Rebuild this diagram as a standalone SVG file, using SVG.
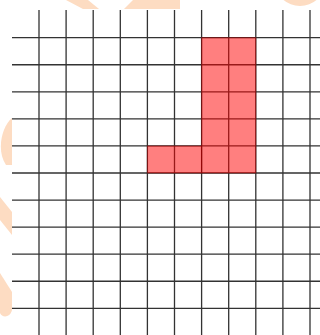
<svg xmlns="http://www.w3.org/2000/svg" width="320" height="335" viewBox="0 0 320 335">
<style>
.wm{fill:#fddcc2}
.gl{stroke:#333;stroke-width:1.3;fill:none}
.cell{fill:#ff0000;fill-opacity:0.5;stroke:#8b0000;stroke-opacity:0.5;stroke-width:1}
</style>
<rect width="320" height="335" fill="#fff"/>
<g id="watermark">
<polygon class="wm" points="66,0 88,0 99,9 83,9"/>
<polygon class="wm" points="133,0 180,0 180,9 124,9"/>
<ellipse class="wm" cx="300" cy="-16" rx="24" ry="22"/>
<path class="wm" d="M12,118 C2,126 -4,150 6,165 L12,165 Z"/>
<polygon class="wm" points="0,197 12,212 12,235 0,220"/>
<path class="wm" d="M0,273 L12,292 L12,310 C10,318 2,318 0,313 Z"/>
</g>
<rect x="12" y="10" width="308" height="325" fill="#fff"/>
<g id="grid" class="gl">
<path d="M12,37.7H320M12,64.76H320M12,91.82H320M12,118.88H320M12,145.94H320M12,173H320M12,200.06H320M12,227.12H320M12,254.18H320M12,281.24H320M12,308.3H320"/>
<path d="M39,10V335M66.1,10V335M93.2,10V335M120.3,10V335M147.4,10V335M174.5,10V335M201.6,10V335M228.7,10V335M255.8,10V335M282.9,10V335M310,10V335"/>
</g>
<g id="shape">
<rect class="cell" x="201.6" y="37.7" width="54.2" height="135.3"/>
<rect class="cell" x="147.4" y="145.94" width="54.2" height="27.06"/>
</g>
</svg>
